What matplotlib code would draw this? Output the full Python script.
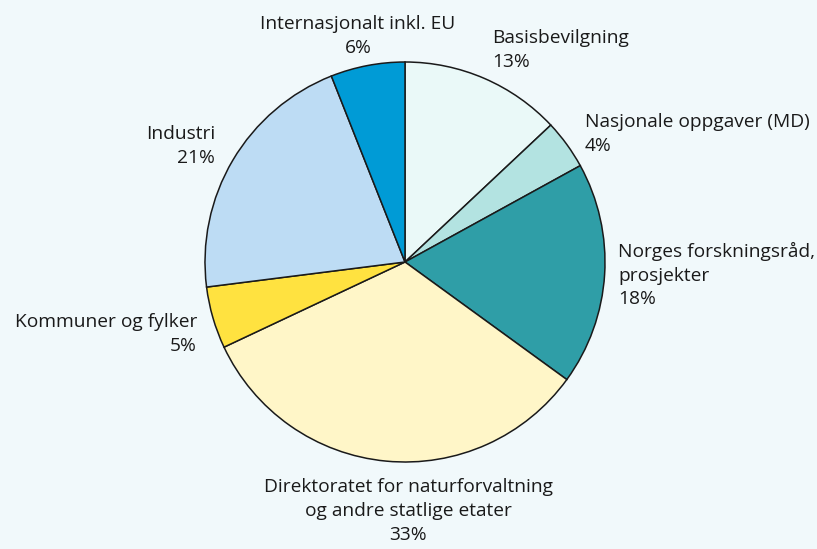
import matplotlib
matplotlib.use("Agg")
import matplotlib.pyplot as plt

categories = ["Basisbevilgning", "Nasjonale oppgaver (MD)", "Norges forskningsråd,\nprosjekter",
              "Direktoratet for naturforvaltning\nog andre statlige etater", "Kommuner og fylker",
              "Industri", "Internasjonalt inkl. EU"]
values = [13, 4, 18, 33, 5, 21, 6]
colors = ["#eaf9f8", "#b3e3e1", "#2f9ea7", "#fff6c8", "#ffe240", "#bddcf4", "#009bd6"]

# label anchor positions (data units, radius = 1) and alignment
label_pos = [(0.435, 1.06, "left"), (0.90, 0.64, "left"), (1.065, -0.065, "left"),
             (0.015, -1.245, "center"), (-1.04, -0.36, "right"), (-0.95, 0.58, "right"),
             (-0.235, 1.13, "center")]

bg = "#f1f9fb"
fig = plt.figure(figsize=(8.17, 5.49), dpi=100, facecolor=bg)
W, H = 817, 549
cx, cy, r = 405, 262, 200
ax = fig.add_axes([(cx - r) / W, (H - cy - r) / H, 2 * r / W, 2 * r / H])
ax.set_facecolor(bg)
ax.pie(values, colors=colors, startangle=90, counterclock=False, radius=1,
       wedgeprops=dict(edgecolor="#1a1a1a", linewidth=1.1))
ax.set_xlim(-1, 1)
ax.set_ylim(-1, 1)
ax.set_aspect("equal")
ax.axis("off")

for cat, v, (x, y, ha) in zip(categories, values, label_pos):
    ax.text(x, y, f"{cat}\n{v}%", ha=ha, va="center", fontsize=13.8,
            family="Open Sans", color="#1a1a1a", linespacing=1.4, clip_on=False)

fig.savefig("out.png", dpi=100, facecolor=bg)
